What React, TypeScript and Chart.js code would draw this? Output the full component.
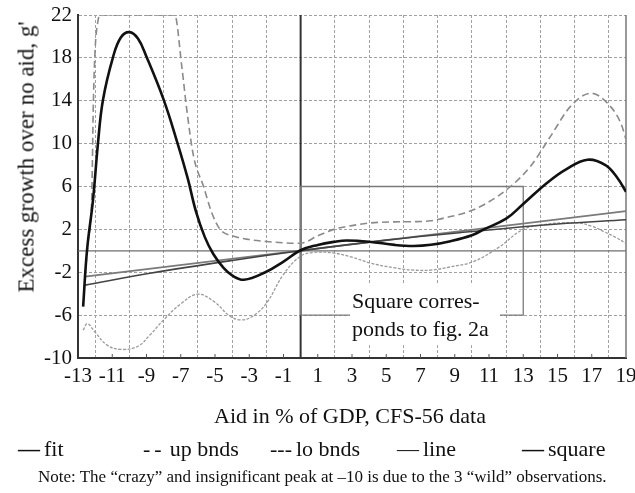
import { useEffect, useRef } from "react";
import { Chart, registerables } from "chart.js";

Chart.register(...registerables);

const FONT = '"Liberation Serif", "Times New Roman", serif';

// axis ranges
const X_MIN = -13;
const X_MAX = 19;
const Y_MIN = -10;
const Y_MAX = 22;
const Y_STEP = 4;

// fit (kernel regression)
const fitX = [-12.7, -12.47, -12.12, -11.83, -11.54, -10.95, -10.5, -10.0, -9.5, -9.0, -8.0, -7.2, -6.6, -6.1, -5.6, -5.1, -4.5, -4.0, -3.3, -2.06, -1.0, 0.0, 1.0, 2.0, 2.7, 4.0, 5.5, 6.6, 7.6, 8.75, 10.0, 10.7, 12.0, 12.95, 14.4, 15.5, 16.75, 17.8, 18.5, 19.0];
const fitY = [-5.2, 0.1, 4.8, 10.1, 14.1, 18.1, 19.9, 20.4, 19.8, 18.1, 14.1, 10.1, 6.8, 3.6, 1.3, -0.3, -1.6, -2.3, -2.7, -2.0, -1.0, 0.05, 0.55, 0.85, 0.96, 0.85, 0.55, 0.45, 0.56, 0.9, 1.45, 2.0, 3.0, 4.3, 6.35, 7.6, 8.5, 8.0, 6.8, 5.5];

// upper bounds
const upX = [-12.6, -12.4, -12.2, -12.1, -12.0, -11.85, -11.7, -9.5, -7.35, -6.94, -6.65, -6.25, -5.67, -5.2, -4.7, -4.0, -3.0, -2.0, -1.0, 0.0, 1.0, 1.93, 3.0, 4.08, 5.5, 6.6, 7.58, 8.75, 9.53, 10.7, 12.26, 13.43, 14.6, 15.77, 16.94, 17.9, 18.7, 19.0];
const upY = [-2.4, 1.0, 4.8, 14.0, 18.8, 21.3, 22, 22, 22, 17.2, 13.2, 8.8, 6.0, 3.6, 2.0, 1.4, 1.05, 0.87, 0.75, 0.7, 1.4, 2.0, 2.35, 2.6, 2.7, 2.72, 2.8, 3.2, 3.5, 4.3, 6.0, 7.9, 10.7, 13.5, 14.7, 13.8, 11.9, 10.4];

// lower bounds
const loX = [-12.7, -12.45, -12.0, -11.3, -10.5, -9.5, -8.8, -8.0, -7.0, -6.0, -5.0, -4.2, -3.5, -2.8, -2.0, -1.0, 0.0, 0.8, 1.9, 3.0, 4.1, 5.5, 6.6, 7.6, 8.75, 10.1, 11.5, 13.0, 14.2, 15.2, 16.2, 17.0, 17.7, 18.4, 19.0];
const loY = [-7.4, -6.8, -7.6, -8.8, -9.2, -8.9, -7.85, -6.45, -4.95, -4.05, -4.8, -6.0, -6.45, -6.1, -4.9, -2.2, -0.5, -0.15, -0.2, -0.6, -1.15, -1.6, -1.8, -1.8, -1.5, -1.0, 0.25, 2.0, 2.45, 2.6, 2.6, 2.3, 1.8, 1.25, 0.7];

// linear fit
const lineX = [-12.6, 19.0];
const lineY = [-2.4, 3.7];

// quadratic fit
const squareX = [-12.6, -8.8, -4.0, 0.0, 5.0, 10.0, 15.0, 19.0];
const squareY = [-3.2, -2.1, -0.9, 0.0, 1.0, 1.8, 2.5, 2.9];

// rectangle: corresponds to fig. 2a
const rectX = [0, 0, 13, 13, 0];
const rectY = [-6, 6, 6, -6, -6];

// annotation label (data units)
const BOX_LINES = ["Square corres-", "ponds to fig. 2a"];
const BOX_X0 = 2.88;
const BOX_X1 = 11.64;
const BOX_YTOP = -3.2;
const BOX_YBOT = -8.8;
const BOX_TEXT_X = 3.0;
const BOX_TEXT_Y = [-4.8, -7.4];

const legendItems = [
  { mark: "\u2014", label: "fit", bold: true, spacing: 0 },
  { mark: "--", label: "up bnds", bold: false, spacing: 4 },
  { mark: "---", label: "lo bnds", bold: false, spacing: 0 },
  { mark: "\u2014", label: "line", bold: false, spacing: 0 },
  { mark: "\u2014", label: "square", bold: true, spacing: 0 },
];
const legendLeft = [18, 143, 270, 397, 522];

const xTitle = "Aid in % of GDP, CFS-56 data";
const yTitle = "Excess growth over no aid, g'";
const note = "Note: The \u201ccrazy\u201d and insignificant peak at \u201310 is due to the 3 \u201cwild\u201d observations.";

const pts = (xs: number[], ys: number[]) => xs.map((x, i) => ({ x, y: ys[i] }));

const decor = {
  id: "decor",
  beforeDatasetsDraw(chart: any) {
    const { ctx, chartArea: a, scales } = chart;
    const x = scales.x;
    const y = scales.y;
    ctx.save();
    const y0 = y.getPixelForValue(0);
    ctx.strokeStyle = "#6e6e6e";
    ctx.lineWidth = 1.3;
    ctx.beginPath();
    ctx.moveTo(a.left, y0);
    ctx.lineTo(a.right, y0);
    ctx.stroke();
    ctx.strokeStyle = "#777";
    ctx.lineWidth = 1.5;
    ctx.beginPath();
    ctx.moveTo(a.right, a.top);
    ctx.lineTo(a.right, a.bottom);
    ctx.stroke();
    ctx.strokeStyle = "#555";
    ctx.lineWidth = 1;
    for (let v = X_MIN + 2; v < X_MAX; v += 2) {
      const px = x.getPixelForValue(v);
      ctx.beginPath();
      ctx.moveTo(px, a.bottom);
      ctx.lineTo(px, a.bottom - 4);
      ctx.stroke();
    }
    const x0 = x.getPixelForValue(0);
    ctx.strokeStyle = "#333";
    ctx.lineWidth = 2;
    ctx.beginPath();
    ctx.moveTo(x0, a.top);
    ctx.lineTo(x0, a.bottom);
    ctx.stroke();
    ctx.restore();
  },
  afterDatasetsDraw(chart: any) {
    const { ctx, scales } = chart;
    const x = scales.x;
    const y = scales.y;
    ctx.save();
    const bx0 = x.getPixelForValue(BOX_X0);
    const bx1 = x.getPixelForValue(BOX_X1);
    const by0 = y.getPixelForValue(BOX_YTOP);
    const by1 = y.getPixelForValue(BOX_YBOT);
    ctx.fillStyle = "#fff";
    ctx.fillRect(bx0, by0, bx1 - bx0, by1 - by0);
    ctx.fillStyle = "#111";
    ctx.font = `22px ${FONT}`;
    ctx.textAlign = "left";
    ctx.textBaseline = "middle";
    BOX_LINES.forEach((t, i) => {
      ctx.fillText(t, x.getPixelForValue(BOX_TEXT_X), y.getPixelForValue(BOX_TEXT_Y[i]));
    });
    ctx.restore();
  },
};

export default function App() {
  const ref = useRef<HTMLCanvasElement | null>(null);

  useEffect(() => {
    if (!ref.current) return;
    const smooth = { pointRadius: 0, pointHoverRadius: 0, tension: 0.4, fill: false };
    const mono = { ...smooth, cubicInterpolationMode: "monotone" as const };
    const chart = new Chart(ref.current, {
      type: "line",
      data: {
        datasets: [
          { ...smooth, label: "fit", data: pts(fitX, fitY), borderColor: "#111", borderWidth: 2.6 },
          { ...smooth, label: "square", data: pts(squareX, squareY), borderColor: "#444", borderWidth: 1.6 },
          { ...smooth, label: "line", data: pts(lineX, lineY), borderColor: "#7a7a7a", borderWidth: 1.8, tension: 0 },
          { ...mono, label: "up bnds", data: pts(upX, upY), borderColor: "#8a8a8a", borderWidth: 1.6, borderDash: [7, 4] },
          { ...smooth, label: "lo bnds", data: pts(loX, loY), borderColor: "#9a9a9a", borderWidth: 1.3, borderDash: [3, 1.5] },
          { label: "rect", data: pts(rectX, rectY), borderColor: "#7a7a7a", borderWidth: 1.3, pointRadius: 0, tension: 0, fill: false },
        ],
      },
      options: {
        animation: false,
        responsive: true,
        maintainAspectRatio: false,
        events: [],
        layout: { padding: { left: 0, top: 15, right: 9, bottom: 95 } },
        plugins: { legend: { display: false }, tooltip: { enabled: false }, title: { display: false } },
        scales: {
          x: {
            type: "linear",
            min: X_MIN,
            max: X_MAX,
            ticks: {
              stepSize: 1,
              autoSkip: false,
              maxRotation: 0,
              minRotation: 0,
              padding: 6,
              color: "#111",
              font: { family: FONT, size: 21 },
              callback: (v: any) => ((Number(v) - X_MIN) % 2 === 0 ? String(v) : ""),
            },
            grid: {
              drawTicks: false,
              lineWidth: 1,
              color: (c: any) => (c.tick && Math.abs(c.tick.value) % 2 === 0 ? "#a0a0a0" : "rgba(0,0,0,0)"),
            },
            border: { display: true, color: "#333", width: 2, dash: [3, 2] },
            afterFit: (s: any) => {
              s.height = 40;
              s.paddingLeft = 0;
              s.paddingRight = 0;
            },
          },
          y: {
            type: "linear",
            min: Y_MIN,
            max: Y_MAX,
            ticks: {
              stepSize: Y_STEP,
              padding: 6,
              color: "#111",
              font: { family: FONT, size: 21 },
            },
            grid: { drawTicks: false, lineWidth: 1, color: "#a0a0a0" },
            border: { display: true, color: "#333", width: 2, dash: [3, 2] },
            afterFit: (s: any) => {
              s.width = 78;
              s.paddingTop = 0;
              s.paddingBottom = 0;
            },
          },
        },
      },
      plugins: [decor],
    } as any);
    return () => chart.destroy();
  }, []);

  return (
    <div style={{ position: "absolute", left: 0, top: 0, width: 635, height: 493, background: "#fff", fontFamily: FONT, color: "#111" }}>
      <div style={{ position: "absolute", left: 0, top: 0, width: 635, height: 493 }}>
        <canvas ref={ref} />
      </div>
      <div
        style={{
          position: "absolute",
          left: 26,
          top: 157,
          transform: "translate(-50%, -50%) rotate(-90deg)",
          whiteSpace: "nowrap",
          fontSize: 23,
          lineHeight: 1,
        }}
      >
        {yTitle}
      </div>
      <div
        style={{
          position: "absolute",
          left: 350,
          top: 416,
          transform: "translate(-50%, -50%)",
          whiteSpace: "nowrap",
          fontSize: 22,
          lineHeight: 1,
        }}
      >
        {xTitle}
      </div>
      {legendItems.map((it, i) => (
        <div
          key={it.label}
          style={{
            position: "absolute",
            left: legendLeft[i],
            top: 449,
            transform: "translateY(-50%)",
            whiteSpace: "nowrap",
            fontSize: 22,
            lineHeight: 1,
          }}
        >
          <span style={{ fontWeight: it.bold ? 700 : 400, letterSpacing: it.spacing, marginRight: 4 }}>{it.mark}</span>
          {it.label}
        </div>
      ))}
      <div
        style={{
          position: "absolute",
          left: 38,
          top: 476,
          transform: "translateY(-50%)",
          whiteSpace: "nowrap",
          fontSize: 17,
          lineHeight: 1,
        }}
      >
        {note}
      </div>
    </div>
  );
}
